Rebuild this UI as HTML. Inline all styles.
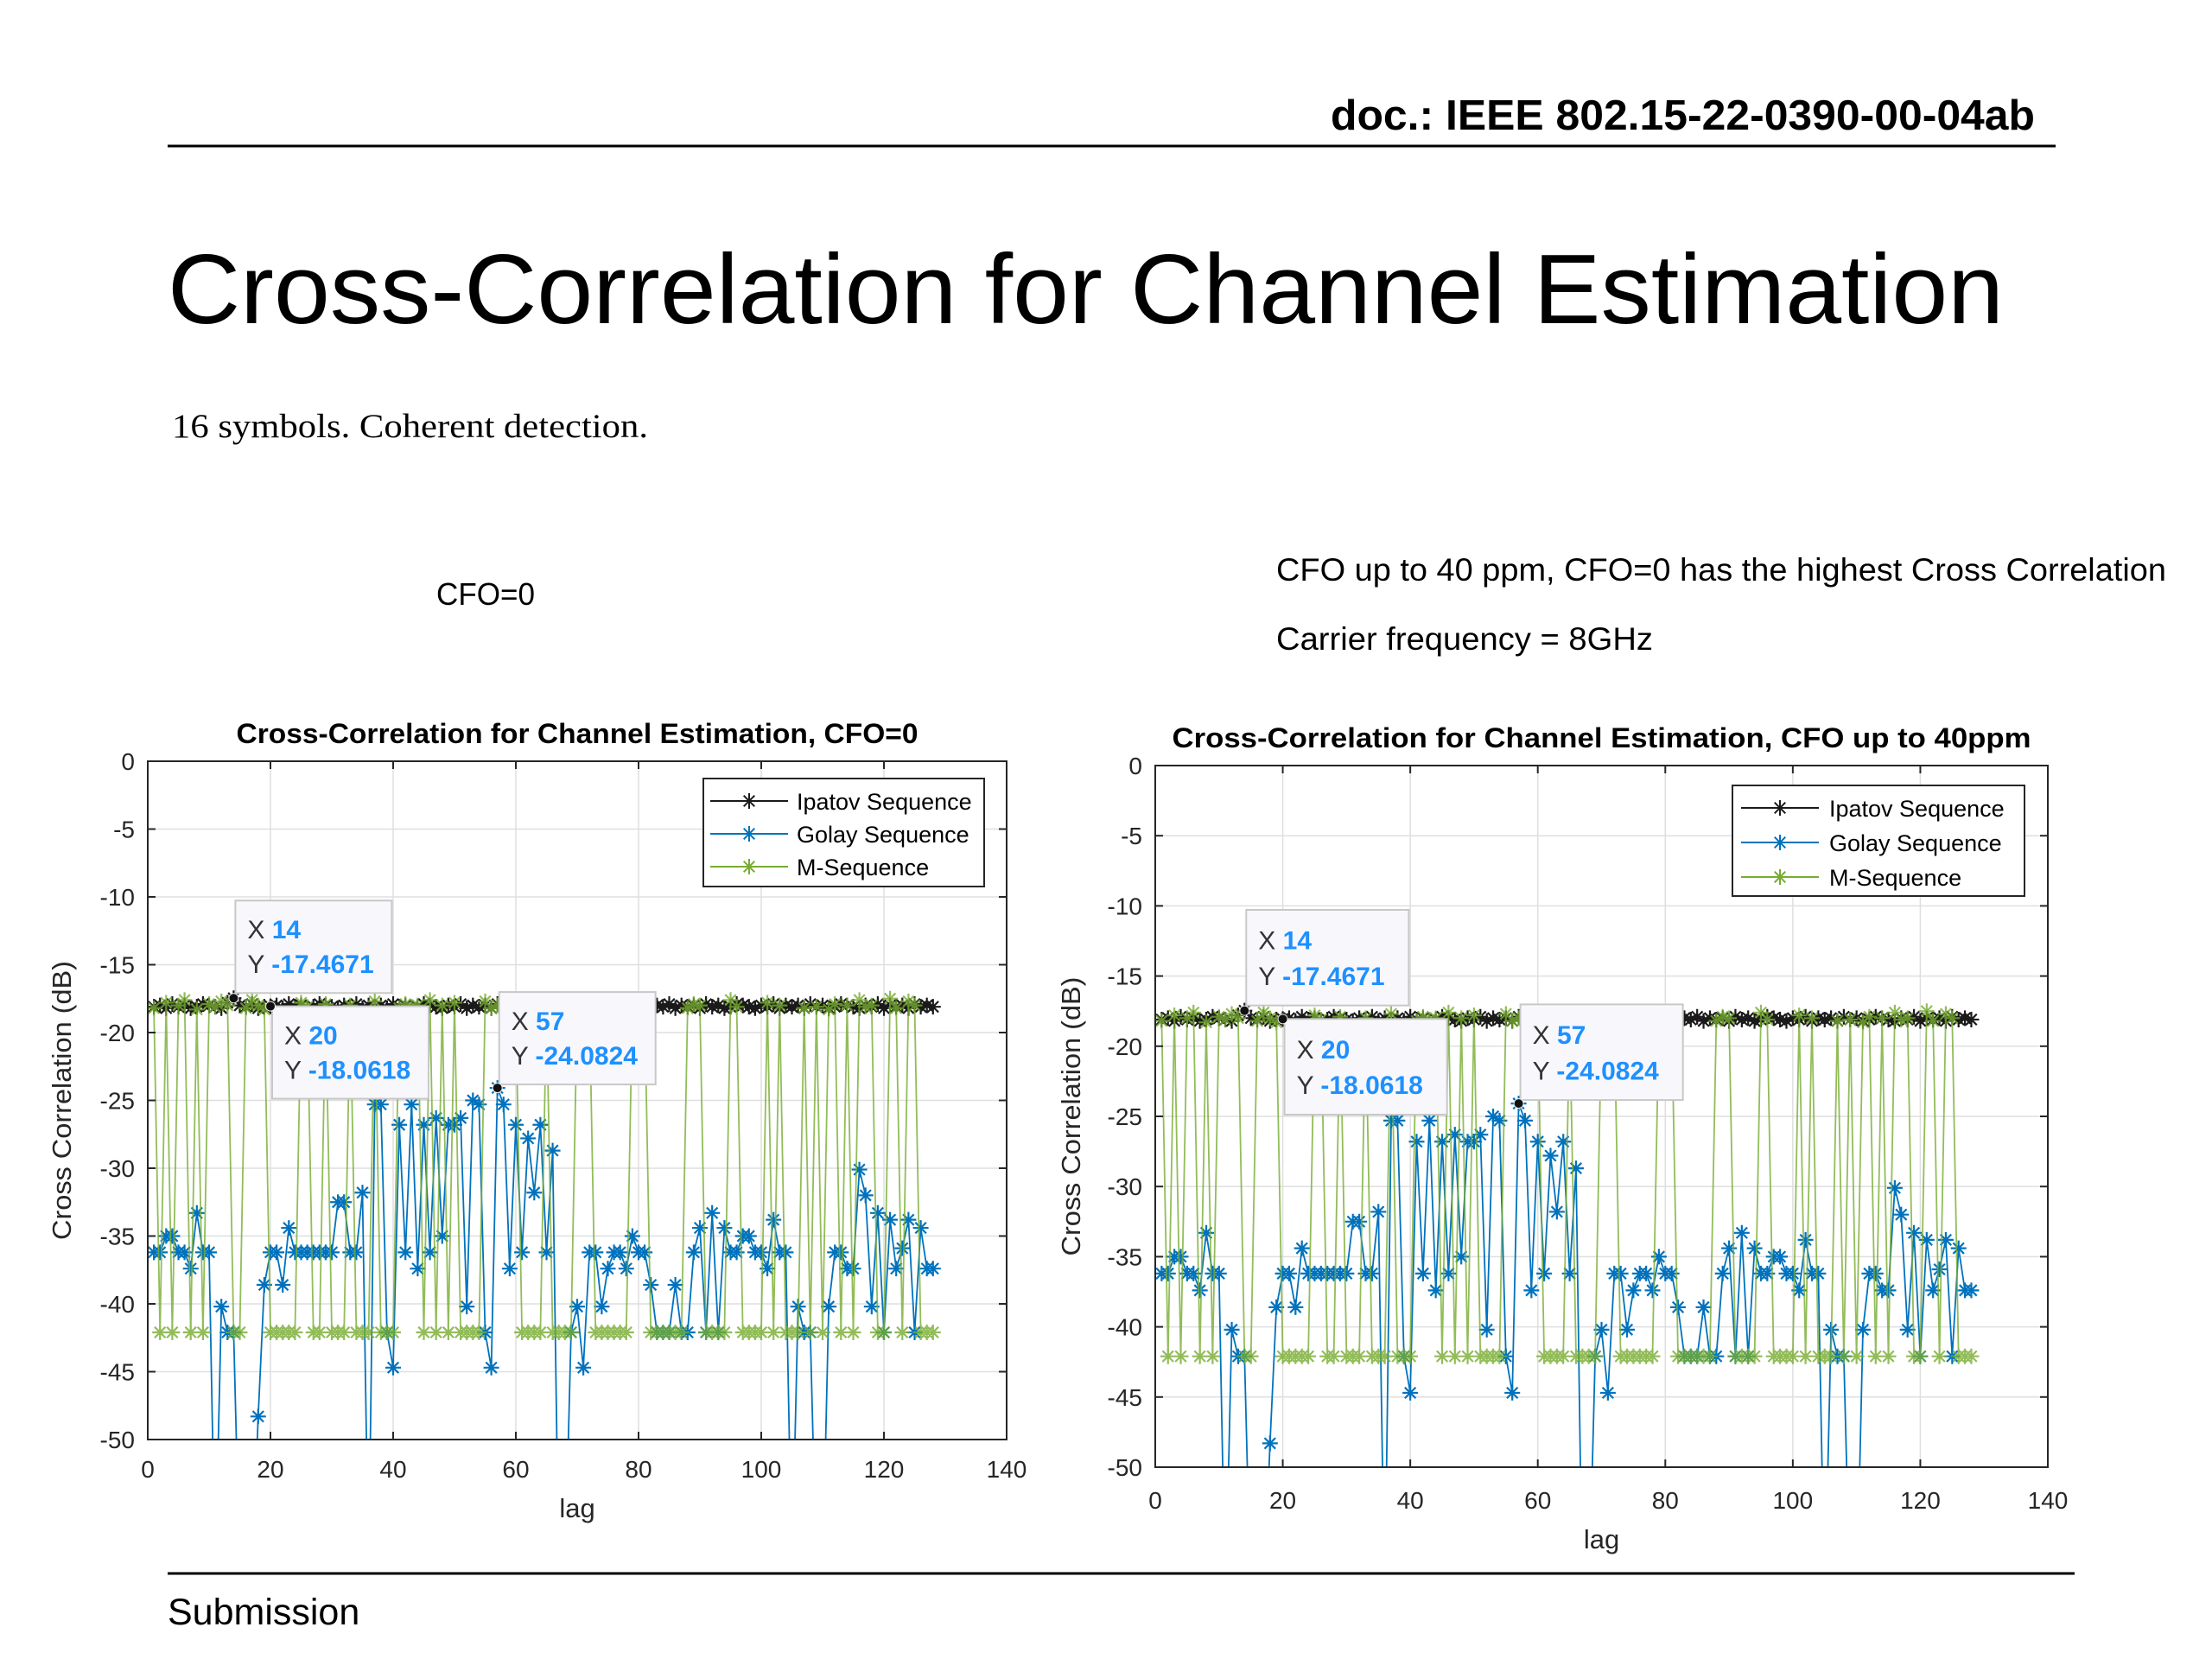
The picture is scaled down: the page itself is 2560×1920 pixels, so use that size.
<!DOCTYPE html>
<html><head><meta charset="utf-8"><style>
html,body{margin:0;padding:0;background:#fff;}
svg{display:block;}
</style></head><body>
<svg id="page" width="2560" height="1920" viewBox="0 0 2560 1920" xmlns="http://www.w3.org/2000/svg" font-family="'Liberation Sans', sans-serif">
<text x="2355" y="150" text-anchor="end" font-size="49" font-weight="bold" textLength="815" lengthAdjust="spacingAndGlyphs">doc.: IEEE 802.15-22-0390-00-04ab</text>
<line x1="194" y1="169" x2="2379" y2="169" stroke="#000" stroke-width="3"/>
<text x="194" y="374" font-size="114" textLength="2125" lengthAdjust="spacingAndGlyphs">Cross-Correlation for Channel Estimation</text>
<text x="199" y="506" font-size="39" font-family="'Liberation Serif', serif" textLength="551" lengthAdjust="spacingAndGlyphs">16 symbols. Coherent detection.</text>
<text x="505" y="700" font-size="36" textLength="114" lengthAdjust="spacingAndGlyphs">CFO=0</text>
<text x="1477" y="672" font-size="37" textLength="1030" lengthAdjust="spacingAndGlyphs">CFO up to 40 ppm, CFO=0 has the highest Cross Correlation</text>
<text x="1477" y="752" font-size="37" textLength="436" lengthAdjust="spacingAndGlyphs">Carrier frequency = 8GHz</text>
<line x1="194" y1="1821" x2="2401" y2="1821" stroke="#000" stroke-width="3"/>
<text x="194" y="1880" font-size="43">Submission</text>
<g id="charts"></g>
</svg>
<script>
const lags = Array.from({length:128},(_, i)=>i+1);
const ipatov = [-18.1,-18.0,-18.2,-17.9,-18.1,-18.0,-18.2,-18.1,-17.9,-18.0,-18.1,-18.2,-17.8,-17.4671,-18.0,-18.1,-17.9,-18.2,-18.1,-18.0618,-18.0,-18.2,-17.9,-18.1,-18.0,-18.2,-18.1,-17.9,-18.0,-18.1,-18.2,-18.0,-18.1,-17.9,-18.2,-18.0,-18.1,-18.0,-18.2,-17.9,-18.1,-18.0,-18.2,-18.1,-17.9,-18.0,-18.1,-18.2,-18.0,-18.1,-17.9,-18.2,-18.0,-18.1,-18.0,-18.2,-17.9,-18.1,-18.0,-18.2,-18.1,-17.9,-18.0,-18.1,-18.2,-18.0,-18.1,-17.9,-18.2,-18.0,-18.1,-18.0,-18.2,-17.9,-18.1,-18.0,-18.2,-18.1,-17.9,-18.0,-18.1,-18.2,-18.0,-18.1,-17.9,-18.2,-18.0,-18.1,-18.0,-18.2,-17.9,-18.1,-18.0,-18.2,-18.1,-17.9,-18.0,-18.1,-18.2,-18.0,-18.1,-17.9,-18.2,-18.0,-18.1,-18.0,-18.2,-17.9,-18.1,-18.0,-18.2,-18.1,-17.9,-18.0,-18.1,-18.2,-18.0,-18.1,-17.9,-18.2,-18.0,-18.1,-18.0,-18.2,-17.9,-18.1,-18.0,-18.1];
const mseq = [-18.2,-42.1,-17.8,-42.1,-18.0,-17.6,-42.1,-18.3,-42.1,-17.9,-18.1,-17.7,-18.0,-42.1,-42.1,-18.2,-17.6,-18.0,-18.3,-42.1,-42.1,-42.1,-42.1,-42.1,-17.8,-18.1,-42.1,-42.1,-17.9,-42.1,-42.1,-42.1,-18.0,-42.1,-42.1,-42.1,-17.7,-42.1,-42.1,-42.1,-18.2,-17.9,-18.1,-18.0,-42.1,-17.6,-42.1,-18.0,-42.1,-17.8,-42.1,-42.1,-42.1,-42.1,-17.7,-18.2,-18.0,-18.1,-17.9,-18.3,-42.1,-42.1,-42.1,-42.1,-18.0,-42.1,-42.1,-42.1,-42.1,-18.1,-17.9,-18.2,-42.1,-42.1,-42.1,-42.1,-42.1,-42.1,-18.0,-17.7,-18.1,-42.1,-42.1,-42.1,-42.1,-42.1,-42.1,-18.2,-17.9,-18.0,-42.1,-42.1,-42.1,-42.1,-17.6,-18.1,-42.1,-42.1,-42.1,-42.1,-17.8,-42.1,-18.0,-42.1,-42.1,-42.1,-18.2,-42.1,-18.1,-42.1,-18.3,-17.9,-42.1,-18.0,-42.1,-17.6,-18.1,-18.0,-42.1,-42.1,-17.5,-18.2,-42.1,-17.7,-18.0,-42.1,-42.1,-42.1];
const golay = [-36.2,-36.2,-35,-35,-36.2,-36.2,-37.4,-33.3,-36.2,-36.2,-60,-40.2,-42.1,-42.1,-60,-60,-60,-48.3,-38.6,-36.2,-36.2,-38.6,-34.4,-36.2,-36.2,-36.2,-36.2,-36.2,-36.2,-36.2,-32.5,-32.5,-36.2,-36.2,-31.8,-60,-25.3,-25.3,-42.1,-44.7,-26.8,-36.2,-25.3,-37.4,-26.8,-36.2,-26.3,-35,-26.8,-26.8,-26.3,-40.2,-25,-25.3,-42.1,-44.7,-24.0824,-25.3,-37.4,-26.8,-36.2,-27.8,-31.8,-26.8,-36.2,-28.7,-60,-60,-42.1,-40.2,-44.7,-36.2,-36.2,-40.2,-37.4,-36.2,-36.2,-37.4,-35,-36.2,-36.2,-38.6,-42.1,-42.1,-42.1,-38.6,-42.1,-42.1,-36.2,-34.4,-42.1,-33.3,-42.1,-34.4,-36.2,-36.2,-35,-35,-36.2,-36.2,-37.4,-33.8,-36.2,-36.2,-60,-40.2,-42.1,-42.1,-60,-60,-40.2,-36.2,-36.2,-37.4,-37.4,-30.1,-32,-40.2,-33.3,-42.1,-33.8,-37.4,-35.9,-33.8,-42.1,-34.4,-37.4,-37.4];
const xTicks = [0,20,40,60,80,100,120,140];
const yTicks = [0,-5,-10,-15,-20,-25,-30,-35,-40,-45,-50];
const seriesNames = ["Ipatov Sequence","Golay Sequence","M-Sequence"];
const tipX = [14,20,57];
const tipY = [-17.4671,-18.0618,-24.0824];

const NS="http://www.w3.org/2000/svg";
function mk(tag, attrs, parent){const e=document.createElementNS(NS,tag);for(const k in attrs)e.setAttribute(k,attrs[k]);if(parent)parent.appendChild(e);return e;}
function star(x,y,s){const d=s*0.7;return `M${x-s},${y}L${x+s},${y}M${x},${y-s}L${x},${y+s}M${x-d},${y-d}L${x+d},${y+d}M${x-d},${y+d}L${x+d},${y-d}`;}

const charts=[
 {id:'left',x0:171,y0:881,w:994,h:785,title:'Cross-Correlation for Channel Estimation, CFO=0',titleW:789,titleY:860,xlabY:1710,lagY:1756,ylabX:82,
  leg:{dx:643,dy:20,w:325,h:125,rows:[26,64,102],lx0:8,lx1:98,tx:108}},
 {id:'right',x0:1337,y0:886,w:1033,h:812,title:'Cross-Correlation for Channel Estimation, CFO up to 40ppm',titleW:994,titleY:865,xlabY:1746,lagY:1792,ylabX:1250,
  leg:{dx:668,dy:23,w:338,h:128,rows:[26,66,106],lx0:10,lx1:100,tx:112}}
];
const root=document.getElementById('charts');
charts.forEach(c=>{
 const g=mk('g',{},root);
 
 
 const sx=v=>c.x0+v/140*c.w;
 const sy=v=>c.y0+(-v)/50*c.h;
 mk('rect',{x:c.x0,y:c.y0,width:c.w,height:c.h,fill:'#fff'},g);
 const grid=mk('g',{stroke:'#dfdfdf','stroke-width':1.5},g);
 
 
 xTicks.forEach(t=>mk('line',{x1:sx(t),x2:sx(t),y1:c.y0,y2:c.y0+c.h},grid));
 yTicks.forEach(t=>mk('line',{x1:c.x0,x2:c.x0+c.w,y1:sy(t),y2:sy(t)},grid));
 const cp=mk('clipPath',{id:'clip-'+c.id},g);
 mk('rect',{x:c.x0,y:c.y0,width:c.w,height:c.h},cp);
 const plot=mk('g',{'clip-path':`url(#clip-${c.id})`},g);
 const series=[[ipatov,'#1a1a1a',1],[golay,'#0072BD',1],[mseq,'#77AC30',0.8]];
 const order=[0,1,2];
 order.forEach(si=>{
  const [vals,col,op]=series[si];
  const sg=mk('g',{opacity:op},plot);
  
  
  let d='';vals.forEach((v,i)=>{d+=(i?'L':'M')+sx(lags[i]).toFixed(1)+','+sy(v).toFixed(1);});
  const ln=mk('path',{d:d,fill:'none',stroke:col,'stroke-width':si==2?1.8:1.8},sg);
  
  
  let m='';vals.forEach((v,i)=>{m+=star(sx(lags[i]),sy(v),9);});
  const mp=mk('path',{d:m,fill:'none',stroke:col,'stroke-width':2.2},sg);
  
  
 });
 mk('rect',{x:c.x0,y:c.y0,width:c.w,height:c.h,fill:'none',stroke:'#262626','stroke-width':2},g);
 xTicks.forEach(t=>{
  mk('line',{x1:sx(t),x2:sx(t),y1:c.y0+c.h,y2:c.y0+c.h-9,stroke:'#262626','stroke-width':2},g);
  mk('line',{x1:sx(t),x2:sx(t),y1:c.y0,y2:c.y0+9,stroke:'#262626','stroke-width':2},g);
  const tx=mk('text',{x:sx(t),y:c.xlabY,'text-anchor':'middle','font-size':28,fill:'#262626'},g);
  tx.textContent=t;
  
  
 });
 yTicks.forEach(t=>{
  mk('line',{x1:c.x0,x2:c.x0+9,y1:sy(t),y2:sy(t),stroke:'#262626','stroke-width':2},g);
  mk('line',{x1:c.x0+c.w,x2:c.x0+c.w-9,y1:sy(t),y2:sy(t),stroke:'#262626','stroke-width':2},g);
  const ty=mk('text',{x:c.x0-15,y:sy(t)+10,'text-anchor':'end','font-size':28,fill:'#262626'},g);
  ty.textContent=t;
  
  
 });
 const tt=mk('text',{x:c.x0+c.w/2,y:c.titleY,'text-anchor':'middle','font-size':32,'font-weight':'bold',fill:'#000',textLength:c.titleW,lengthAdjust:'spacingAndGlyphs'},g);
 tt.textContent=c.title;
 
 
 const xl=mk('text',{x:c.x0+c.w/2,y:c.lagY,'text-anchor':'middle','font-size':31,fill:'#262626'},g);
 xl.textContent='lag';
 
 
 const yl=mk('text',{x:c.ylabX,y:c.y0+c.h/2,'text-anchor':'middle','font-size':31,fill:'#262626',textLength:323,lengthAdjust:'spacingAndGlyphs',transform:`rotate(-90 ${c.ylabX} ${c.y0+c.h/2})`},g);
 yl.textContent='Cross Correlation (dB)';
 
 
 const L=c.leg;const lx=c.x0+L.dx, ly=c.y0+L.dy;
 const lg=mk('g',{},g);
 
 
 mk('rect',{x:lx,y:ly,width:L.w,height:L.h,fill:'#fff',stroke:'#262626','stroke-width':2},lg);
 const cols=['#1a1a1a','#0072BD','#77AC30'];
 seriesNames.forEach((n,i)=>{
  const yy=ly+L.rows[i];
  mk('line',{x1:lx+L.lx0,x2:lx+L.lx1,y1:yy,y2:yy,stroke:cols[i],'stroke-width':2},lg);
  mk('path',{d:star(lx+(L.lx0+L.lx1)/2,yy,9),stroke:cols[i],'stroke-width':2,fill:'none'},lg);
  const te=mk('text',{x:lx+L.tx,y:yy+10,'font-size':27,fill:'#000'},lg);
  te.textContent=n;
  
  
 });
 const kx=c.w/994, ky=c.h/785;
 tipX.forEach((xv,i)=>{
  const px=sx(xv), py=sy(tipY[i]);
  const bw=181*kx, bh=107*ky;
  const bx=px+2, by = i==1 ? py : py-bh-(i==0?6:4);
  const tg=mk('g',{},g);
  
  
  mk('rect',{x:bx,y:by,width:bw,height:bh,fill:'#f8f8fc',stroke:'#c8c8c8','stroke-width':2},tg);
  mk('circle',{cx:px,cy:py,r:5.5,fill:'#111',stroke:'#eee','stroke-width':1},tg);
  const t1=mk('text',{x:bx+14,y:by+44*ky,'font-size':30,fill:'#333'},tg);
  t1.innerHTML='X <tspan fill="#1E90FF" font-weight="bold">'+xv+'</tspan>';
  const t2=mk('text',{x:bx+14,y:by+84*ky,'font-size':30,fill:'#333'},tg);
  t2.innerHTML='Y <tspan fill="#1E90FF" font-weight="bold">'+tipY[i]+'</tspan>';
 });
});
</script>
</body></html>
